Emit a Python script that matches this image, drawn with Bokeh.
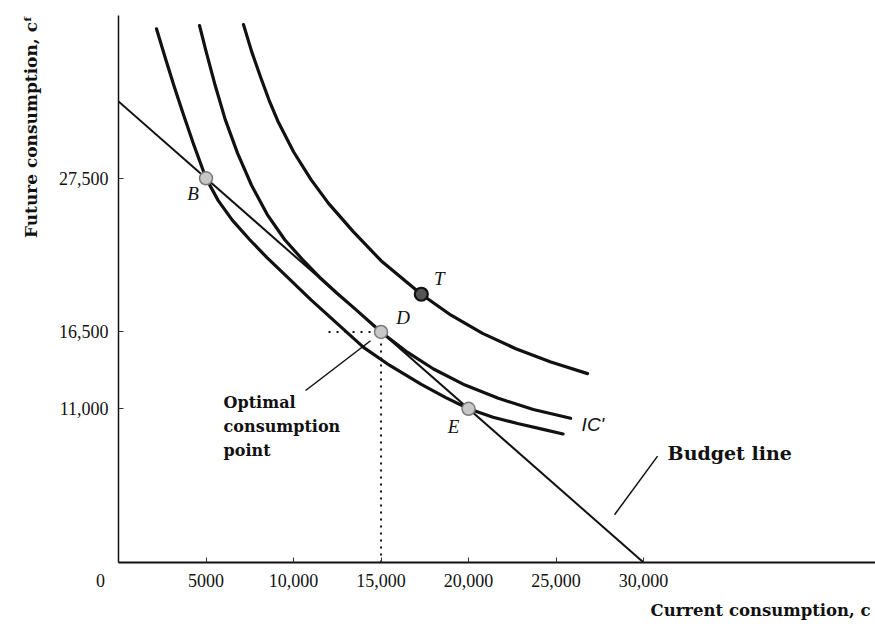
from bokeh.plotting import figure
from bokeh.models import Range1d, FixedTicker, Label, Title
from bokeh.embed import file_html
from bokeh.resources import INLINE

# ---------------- data ----------------
x_ticks = [0, 5000, 10000, 15000, 20000, 25000, 30000]
x_tick_labels = ["0" + "\u00a0" * 8, "5000", "10,000", "15,000", "20,000", "25,000", "30,000"]
y_ticks = [11000, 16500, 27500]
y_tick_labels = ["11,000", "16,500", "27,500"]

budget_c = [0, 30000]
budget_cf = [33000, 0]

ic_low_c = [2170, 2700, 3200, 3700, 4300, 5000, 5700, 6500, 7500, 8500, 9500, 11000,
            12500, 14000, 15500, 17300, 18700, 20000, 21400, 22800, 24200, 25400]
ic_low_cf = [38200, 36000, 34000, 32100, 29900, 27500, 25900, 24500, 23100, 21800, 20600, 18800,
             17100, 15400, 14100, 12750, 11800, 11000, 10400, 9950, 9550, 9200]

ic_mid_c = [4630, 5000, 5500, 6100, 6800, 7600, 8500, 9500, 10500, 11500, 12500, 13500,
            15000, 16500, 18000, 19800, 21700, 23700, 25830]
ic_mid_cf = [38430, 36600, 34250, 31700, 29300, 27000, 24900, 23100, 21700, 20400, 19250, 18170,
             16500, 15050, 13850, 12700, 11750, 10950, 10320]

ic_high_c = [7140, 7600, 8100, 8600, 9100, 10000, 11000, 12000, 13400, 15000, 17300, 19000,
             20800, 22700, 24700, 26800]
ic_high_cf = [38500, 36600, 34800, 33100, 31600, 29400, 27400, 25700, 23700, 21600, 19200, 17700,
              16400, 15300, 14350, 13520]

pt_names = ["B", "D", "E"]
pt_c = [5000, 15000, 20000]
pt_cf = [27500, 16500, 11000]
t_c = 17300
t_cf = 19200

dot_h_start = 12000          # start of dotted horizontal guide to D
opt_leader_c = [10690, 14400]
opt_leader_cf = [12310, 15870]
bud_leader_c = [30800, 28340]
bud_leader_cf = [7616, 3416]

# ---------------- figure ----------------
p = figure(width=875, height=624, output_backend="svg", toolbar_location=None,
           x_range=Range1d(0, 43250), y_range=Range1d(0, 39150),
           min_border_left=118, min_border_right=0, min_border_top=15,
           min_border_bottom=59, background_fill_color="white",
           border_fill_color="white")
p.outline_line_color = None
p.xgrid.visible = False
p.ygrid.visible = False

tick_font = "Liberation Serif"
p.xaxis.ticker = FixedTicker(ticks=x_ticks)
p.xaxis.major_label_overrides = {t: l for t, l in zip(x_ticks, x_tick_labels)}
p.yaxis.ticker = FixedTicker(ticks=y_ticks)
p.yaxis.major_label_overrides = {t: l for t, l in zip(y_ticks, y_tick_labels)}
for ax in (p.xaxis, p.yaxis):
    ax.axis_line_color = "#111111"
    ax.major_tick_in = 5
    ax.major_tick_out = 0
    ax.major_tick_line_color = "#333333"
    ax.major_tick_line_width = 1
    ax.minor_tick_line_color = None
    ax.major_label_text_font = tick_font
    ax.major_label_text_font_size = "18px"
    ax.major_label_text_color = "#111111"
p.xaxis.axis_line_width = 2
p.yaxis.axis_line_width = 1.5
p.xaxis.major_label_standoff = 8
p.yaxis.major_label_standoff = 10

# budget line
p.line(budget_c, budget_cf, line_color="#111111", line_width=2)

# indifference curves
for xs, ys in ((ic_low_c, ic_low_cf), (ic_mid_c, ic_mid_cf), (ic_high_c, ic_high_cf)):
    p.line(xs, ys, line_color="#111111", line_width=3.2, line_join="round", line_cap="round")

# dotted guides to D
d_c, d_cf = pt_c[1], pt_cf[1]
p.line([dot_h_start, d_c], [d_cf, d_cf], line_color="#111111", line_width=2, line_dash="2 6")
p.line([d_c, d_c], [0, d_cf], line_color="#111111", line_width=2, line_dash="2 5")

# leader lines
p.line(opt_leader_c, opt_leader_cf, line_color="#111111", line_width=1.5)
p.line(bud_leader_c, bud_leader_cf, line_color="#111111", line_width=1.5)

# points
p.scatter(pt_c, pt_cf, size=13, fill_color="#c8c8c8", line_color="#7a7a7a", line_width=1.5)
p.scatter([t_c], [t_cf], size=13, fill_color="#555555", line_color="#111111", line_width=2.2)

# point labels
ital = dict(text_font="Liberation Serif", text_font_style="italic", text_font_size="19px",
            text_color="#111111", text_align="center", text_baseline="middle")
offs = {"B": (-13, -15), "D": (22, 14), "E": (-15, -18)}
for n, c, v in zip(pt_names, pt_c, pt_cf):
    ox, oy = offs[n]
    p.add_layout(Label(x=c, y=v, text=n, x_offset=ox, y_offset=oy, **ital))
p.add_layout(Label(x=t_c, y=t_cf, text="T", x_offset=18, y_offset=16, **ital))

p.add_layout(Label(x=ic_mid_c[-1], y=ic_mid_cf[-1], text="IC'", x_offset=11, y_offset=-6,
                   text_font="Liberation Sans", text_font_style="italic", text_font_size="19px",
                   text_color="#111111", text_align="left", text_baseline="middle"))

bold = dict(text_font="DejaVu Serif", text_font_style="bold", text_color="#111111")
p.add_layout(Label(x=bud_leader_c[0], y=bud_leader_cf[0], text="Budget line", x_offset=10, y_offset=3,
                   text_font_size="19px", text_align="left", text_baseline="middle", **bold))
p.add_layout(Label(x=opt_leader_c[0], y=opt_leader_cf[0], text="Optimal\nconsumption\npoint",
                   x_offset=-82, y_offset=-2, text_font_size="16px", text_line_height=1.27,
                   text_align="left", text_baseline="top", **bold))

# axis titles
p.add_layout(Title(text="Future consumption, c\u1da0", align="right", offset=0, standoff=30,
                   text_font_size="17px", **bold), "left")
p.add_layout(Title(text="Current consumption, c", align="left", offset=532,
                   text_font_size="16.5px", **bold), "below")

open("out.html", "w").write(file_html(p, INLINE))
